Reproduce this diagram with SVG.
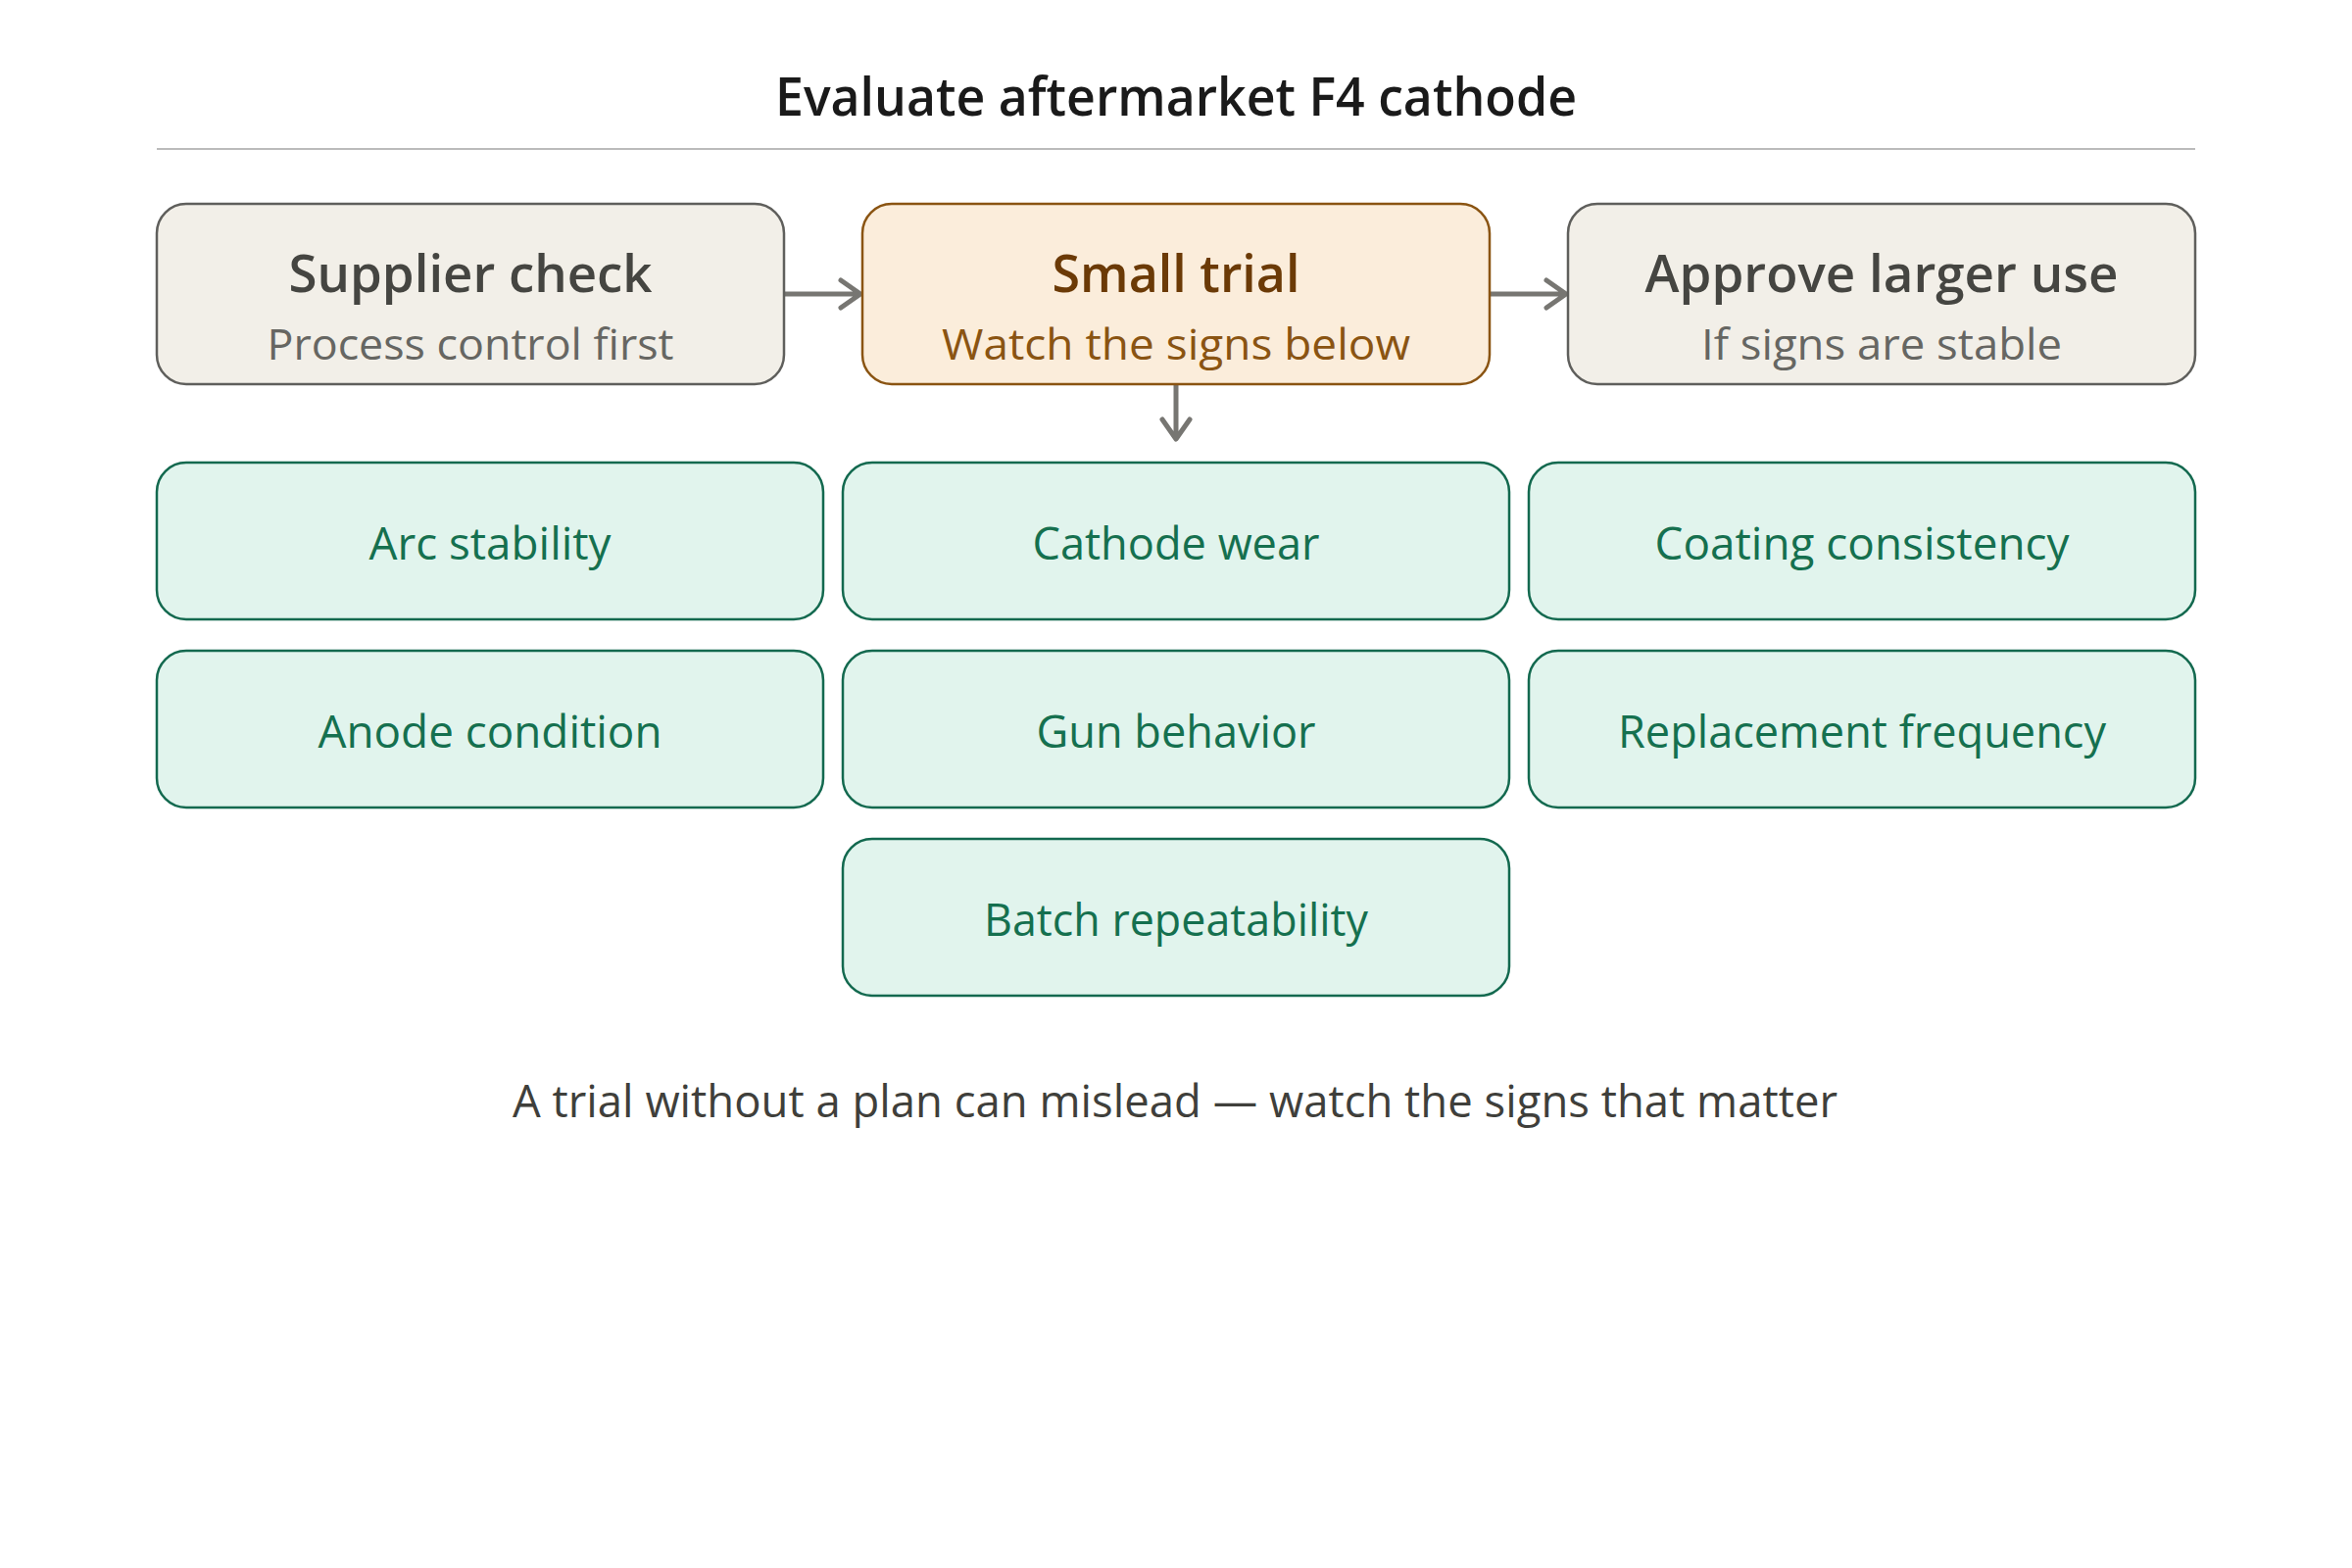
<svg xmlns="http://www.w3.org/2000/svg" width="2400" height="1600" viewBox="0 0 2400 1600">
<defs>
<style>
text{font-family:"Open Sans","Noto Sans","DejaVu Sans",sans-serif;text-anchor:middle}
.title{font-size:54px;font-weight:600;fill:#1a1a1a}
.gbox{fill:#f2efe8;stroke:#5f5f5c;stroke-width:2.5}
.obox{fill:#fbeddb;stroke:#8a5412;stroke-width:2.5}
.sbox{fill:#e1f4ed;stroke:#13694f;stroke-width:2.5}
.h{font-size:53px;font-weight:600}
.s{font-size:44px}
.gh{fill:#454541}.gs{fill:#666662}
.oh{fill:#6b3a06}.os{fill:#8a5412}
.st{font-size:46px;fill:#15704f}
.foot{font-size:46px;fill:#3f3f3b}
.conn{fill:none;stroke:#777672;stroke-width:5;stroke-linecap:round;stroke-linejoin:round}
</style>
</defs>
<rect width="2400" height="1600" fill="#ffffff"/>
<g id="header">
<text class="title" x="1200" y="118" textLength="818" lengthAdjust="spacingAndGlyphs">Evaluate aftermarket F4 cathode</text>
<line x1="160" y1="152" x2="2240" y2="152" stroke="#bbbbbb" stroke-width="2"/>
</g>
<g id="connectors">
<path class="conn" d="M800 300 H877 M858 286 L878 300 L858 314"/>
<path class="conn" d="M1520 300 H1597 M1578 286 L1598 300 L1578 314"/>
<path class="conn" d="M1200 392 V447 M1186 428 L1200 448 L1214 428"/>
</g>
<g id="supplier-check">
<rect class="gbox" x="160" y="208" width="640" height="184" rx="30"/>
<text class="h gh" x="480" y="298" textLength="371" lengthAdjust="spacingAndGlyphs">Supplier check</text>
<text class="s gs" x="480" y="367" textLength="415" lengthAdjust="spacingAndGlyphs">Process control first</text>
</g>
<g id="small-trial">
<rect class="obox" x="880" y="208" width="640" height="184" rx="30"/>
<text class="h oh" x="1200" y="298" textLength="253" lengthAdjust="spacingAndGlyphs">Small trial</text>
<text class="s os" x="1200" y="367" textLength="478" lengthAdjust="spacingAndGlyphs">Watch the signs below</text>
</g>
<g id="approve-larger-use">
<rect class="gbox" x="1600" y="208" width="640" height="184" rx="30"/>
<text class="h gh" x="1920" y="298" textLength="483" lengthAdjust="spacingAndGlyphs">Approve larger use</text>
<text class="s gs" x="1920" y="367" textLength="368" lengthAdjust="spacingAndGlyphs">If signs are stable</text>
</g>
<g id="arc-stability">
<rect class="sbox" x="160" y="472" width="680" height="160" rx="30"/>
<text class="st" x="500" y="571" textLength="247" lengthAdjust="spacingAndGlyphs">Arc stability</text>
</g>
<g id="cathode-wear">
<rect class="sbox" x="860" y="472" width="680" height="160" rx="30"/>
<text class="st" x="1200" y="571" textLength="293" lengthAdjust="spacingAndGlyphs">Cathode wear</text>
</g>
<g id="coating-consistency">
<rect class="sbox" x="1560" y="472" width="680" height="160" rx="30"/>
<text class="st" x="1900" y="571" textLength="423" lengthAdjust="spacingAndGlyphs">Coating consistency</text>
</g>
<g id="anode-condition">
<rect class="sbox" x="160" y="664" width="680" height="160" rx="30"/>
<text class="st" x="500" y="763" textLength="351" lengthAdjust="spacingAndGlyphs">Anode condition</text>
</g>
<g id="gun-behavior">
<rect class="sbox" x="860" y="664" width="680" height="160" rx="30"/>
<text class="st" x="1200" y="763" textLength="285" lengthAdjust="spacingAndGlyphs">Gun behavior</text>
</g>
<g id="replacement-frequency">
<rect class="sbox" x="1560" y="664" width="680" height="160" rx="30"/>
<text class="st" x="1900" y="763" textLength="498" lengthAdjust="spacingAndGlyphs">Replacement frequency</text>
</g>
<g id="batch-repeatability">
<rect class="sbox" x="860" y="856" width="680" height="160" rx="30"/>
<text class="st" x="1200" y="955" textLength="392" lengthAdjust="spacingAndGlyphs">Batch repeatability</text>
</g>
<g id="footer">
<text class="foot" x="1199" y="1140" textLength="1352" lengthAdjust="spacingAndGlyphs">A trial without a plan can mislead — watch the signs that matter</text>
</g>
</svg>
